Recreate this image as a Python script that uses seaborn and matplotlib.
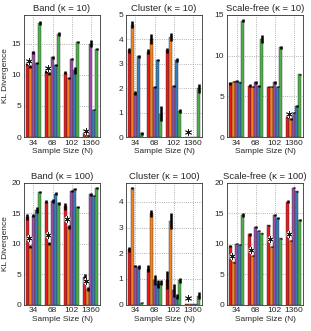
import numpy as np
import pandas as pd
import matplotlib
matplotlib.use("Agg")
import matplotlib.pyplot as plt
import seaborn as sns

sizes = ["34", "68", "102", "1360"]
methods = ["M1", "M2", "M3", "M4", "M5"]
colors = ["#e41a1c", "#f5821f", "#984ea3", "#377eb8", "#4daf4a"]

# rows = methods, columns = sample sizes
band10_mean = [[11.8, 10.5, 10.3, 0.7], [11.3, 10.2, 9.5, 0.3], [13.6, 12.8, 12.5, 15.0],
               [11.9, 11.6, 10.7, 4.4], [18.3, 16.5, 15.3, 14.1]]
band10_err = [[0.3, 0.3, 0.25, 0.2], [0.2, 0.2, 0.15, 0.1], [0.2, 0.2, 0.15, 0.6],
              [0.2, 0.2, 0.6, 0.1], [0.4, 0.3, 0.15, 0.15]]
band10_star = [12.2, 11.1, np.nan, 0.9]

cluster10_mean = [[3.55, 3.5, 3.55, 0.01], [4.6, 4.0, 4.1, 0.01], [1.8, 2.05, 2.1, 0.01],
                  [3.3, 3.17, 3.17, 0.01], [0.15, 0.95, 1.07, 2.0]]
cluster10_err = [[0.1, 0.1, 0.1, 0.0], [0.15, 0.2, 0.15, 0.0], [0.08, 0.04, 0.05, 0.0],
                 [0.06, 0.04, 0.08, 0.0], [0.05, 0.3, 0.08, 0.18]]
cluster10_star = [np.nan, np.nan, np.nan, 0.2]

scale10_mean = [[6.6, 6.3, 6.2, 2.5], [6.8, 6.2, 6.2, 2.2], [6.9, 6.7, 6.7, 3.0],
                [6.7, 6.3, 6.2, 3.8], [14.3, 12.0, 11.0, 7.7]]
scale10_err = [[0.15, 0.2, 0.1, 0.15], [0.1, 0.1, 0.1, 0.1], [0.1, 0.15, 0.15, 0.1],
               [0.1, 0.1, 0.1, 0.1], [0.2, 0.5, 0.2, 0.1]]
scale10_star = [np.nan, np.nan, np.nan, 2.8]

band100_mean = [[14.3, 16.9, 16.1, 4.5], [9.5, 10.0, 12.7, 2.5], [14.6, 17.0, 18.6, 18.1],
                [15.5, 18.2, 19.0, 17.9], [18.5, 16.6, 16.0, 19.1]]
band100_err = [[0.5, 0.2, 0.5, 0.5], [0.3, 0.3, 0.3, 0.3], [0.3, 0.4, 0.2, 0.2],
               [0.5, 0.2, 0.2, 0.1], [0.2, 0.2, 0.2, 0.2]]
band100_star = [11.0, 11.4, 14.0, 3.8]

cluster100_mean = [[2.15, 1.4, 0.95, 0.02], [4.55, 3.55, 3.25, 0.02], [1.5, 0.95, 0.55, 0.03],
                   [1.45, 0.8, 0.3, 0.03], [0.07, 0.85, 0.95, 0.35]]
cluster100_err = [[0.1, 0.15, 0.35, 0.0], [0.05, 0.15, 0.3, 0.0], [0.05, 0.2, 0.25, 0.0],
                  [0.08, 0.15, 0.1, 0.0], [0.02, 0.1, 0.1, 0.15]]
cluster100_star = [np.nan, np.nan, np.nan, 0.25]

scale100_mean = [[9.6, 11.5, 13.0, 16.9], [6.9, 8.0, 9.5, 10.5], [10.0, 12.7, 14.7, 19.2],
                 [9.8, 12.1, 14.2, 18.6], [14.7, 11.7, 10.9, 13.9]]
scale100_err = [[0.1, 0.2, 0.1, 0.2], [0.1, 0.1, 0.1, 0.1], [0.1, 0.2, 0.2, 0.1],
                [0.1, 0.1, 0.1, 0.1], [0.3, 0.1, 0.1, 0.2]]
scale100_star = [8.0, 9.0, 10.7, 11.5]

sns.set_style("white")
plt.rcParams["font.family"] = ["Liberation Sans", "DejaVu Sans"]


def draw(ax, title, mean, err, star, ymax, yticks, ylabel):
    df = pd.DataFrame({"size": np.tile(sizes, len(methods)),
                       "method": np.repeat(methods, len(sizes)),
                       "kl": np.ravel(mean)})
    sns.barplot(data=df, x="size", y="kl", hue="method", order=sizes, hue_order=methods,
                palette=colors, saturation=1, errorbar=None, width=0.8,
                edgecolor="0.2", linewidth=0.3, legend=False, ax=ax)
    for cont, e in zip(ax.containers, err):
        xs = [b.get_x() + b.get_width() / 2 for b in cont]
        ys = [b.get_height() for b in cont]
        ax.errorbar(xs, ys, yerr=e, fmt="none", ecolor="k", elinewidth=1.8, capsize=0, zorder=3)
    xs = np.arange(len(sizes)) - 0.24
    ax.plot(xs, star, ls="none", marker=(6, 2, 0), ms=5, mec="white", mew=1.6, zorder=4)
    ax.plot(xs, star, ls="none", marker=(6, 2, 0), ms=5, mec="0.1", mew=0.6, zorder=5)
    ax.set_xlim(-0.5, 3.5)
    ax.set_ylim(0, ymax)
    ax.set_yticks(yticks)
    ax.grid(True, ls=":", color="0.6", lw=0.6)
    ax.set_axisbelow(True)
    ax.tick_params(direction="in", length=2, width=0.5, labelsize=6, pad=2)
    for s in ax.spines.values():
        s.set_linewidth(0.6)
        s.set_color("0.2")
    ax.set_title(title, fontsize=6.8, pad=3)
    ax.set_xlabel("Sample Size (N)", fontsize=6, labelpad=1)
    ax.set_ylabel("KL Divergence" if ylabel else "", fontsize=6, labelpad=2)


fig = plt.figure(figsize=(3.11, 3.31), dpi=100)
lefts = [0.077, 0.405, 0.730]
width = 0.245
top_axes = [fig.add_axes([l, 0.586, width, 0.369]) for l in lefts]
bot_axes = [fig.add_axes([l, 0.080, width, 0.368]) for l in lefts]

draw(top_axes[0], "Band (\u03ba = 10)", band10_mean, band10_err, band10_star, 19.6, [0, 5, 10, 15], True)
draw(top_axes[1], "Cluster (\u03ba = 10)", cluster10_mean, cluster10_err, cluster10_star, 5, [0, 1, 2, 3, 4, 5], False)
draw(top_axes[2], "Scale-free (\u03ba = 10)", scale10_mean, scale10_err, scale10_star, 15, [0, 5, 10, 15], False)
draw(bot_axes[0], "Band (\u03ba = 100)", band100_mean, band100_err, band100_star, 20, [0, 5, 10, 15, 20], True)
draw(bot_axes[1], "Cluster (\u03ba = 100)", cluster100_mean, cluster100_err, cluster100_star, 4.75, [0, 1, 2, 3, 4], False)
draw(bot_axes[2], "Scale-free (\u03ba = 100)", scale100_mean, scale100_err, scale100_star, 20, [0, 5, 10, 15, 20], False)

fig.savefig("out.png", dpi=100)
